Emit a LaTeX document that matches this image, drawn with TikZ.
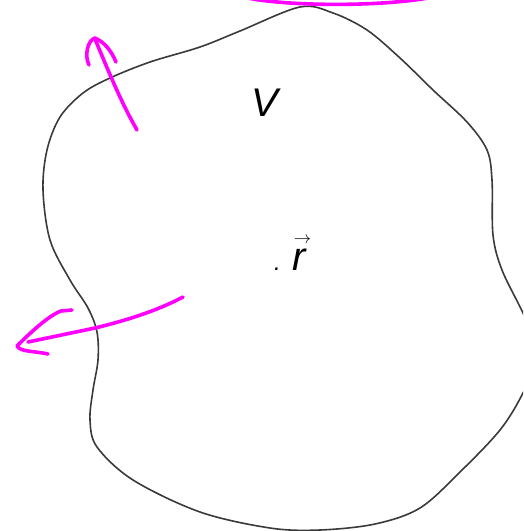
\documentclass[tikz,border=0pt]{standalone}
\usepackage{fontspec}
\setmainfont{Liberation Sans}
\definecolor{pen}{HTML}{FF00FF}
\definecolor{outline}{HTML}{3A3A3A}
\tikzset{
  ink/.style={draw=pen, line width=3.6pt, line cap=round, line join=round},
  blob/.style={draw=outline, line width=1.6pt},
  lbl/.style={inner sep=0pt, anchor=base, font=\fontsize{40}{48}\selectfont\itshape}
}
\begin{document}
\begin{tikzpicture}[x=1pt,y=-1pt]
\useasboundingbox (0,0) rectangle (523,531);
\clip (0,0) rectangle (523,531);
% region outline
\draw[blob] plot[smooth cycle, tension=0.55] coordinates {
 (300,7) (333,13) (367,30) (400,58) (433,90) (467,122) (487,150) (492,180)
 (493,235) (502,270) (523,313) (540,352) (523,393) (500,430) (460,472)
 (420,508) (375,524) (320,530) (270,528) (200,512) (133,480) (97,447)
 (90,420) (93,390) (98,360) (97,332) (88,308) (70,280) (50,240) (43,190)
 (47,150) (60,117) (83,93) (110,78) (150,62) (200,47) (240,31)};
% labels
\node[lbl] (V) at (265,116) {V};
\node[lbl, anchor=base west] (r) at (274,270)
  {{\fontsize{24}{24}\selectfont.}\hspace{12pt}r\hspace{5pt}\llap{\raisebox{27pt}{\fontsize{19}{19}\selectfont$\rightarrow$}}};
% magenta strokes
\draw[ink] (248,-2) .. controls (290,6.5) and (380,6.5) .. (428,-2);
\draw[ink] (137,130) .. controls (122,104) and (110,75) .. (95,39);
\draw[ink] (89,65) .. controls (84,55) and (88,40) .. (95,38)
           .. controls (104,42) and (111,50) .. (116,62);
\draw[ink] (183,297) .. controls (155,312) and (120,322) .. (95,328)
           -- (28,342);
\draw[ink] (72,310) -- (61,311) .. controls (48,316) and (30,333) .. (17,346)
           .. controls (20,352) and (35,351) .. (48,354);
\end{tikzpicture}
\end{document}
